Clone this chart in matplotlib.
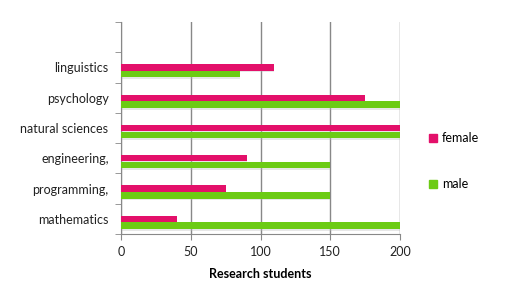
import matplotlib
matplotlib.use("Agg")
import matplotlib.pyplot as plt
from matplotlib.patches import Patch
import numpy as np

# data
subjects = ['mathematics', 'programming,', 'engineering,', 'natural sciences', 'psychology', 'linguistics']
female = [40, 75, 90, 200, 175, 110]
male = [200, 150, 150, 200, 200, 85]
xticks = [0, 50, 100, 150, 200]

female_c = '#E3106A'
male_c = '#6CCB14'
edge_c = '#888888'

plt.rcParams['font.family'] = ['Lato', 'DejaVu Sans']

fig = plt.figure(figsize=(5.17, 3.05), dpi=100)
ax = fig.add_axes([121 / 517, 1 - 234 / 305, 279 / 517, 212 / 305])

y = np.arange(len(subjects))
h = 0.21
off = 0.225

# soft shadow under bars
ax.barh(y - 0.06, female, height=h, color='#bbbbbb', alpha=0.35, zorder=2)
ax.barh(y - off - 0.06, male, height=h, color='#bbbbbb', alpha=0.35, zorder=2)
ax.barh(y, female, height=h, color=female_c, zorder=3, label='female')
ax.barh(y - off, male, height=h, color=male_c, zorder=3, label='male')

ax.set_xlim(0, 200)
ax.set_ylim(-0.5, 6.5)
ax.set_xticks(xticks)
ax.set_yticks(y)
ax.set_yticklabels(subjects)
ax.set_yticks(np.arange(-0.5, 7, 1), minor=True)
ax.tick_params(axis='y', which='major', length=0, labelsize=9, pad=9, colors='#222222')
ax.tick_params(axis='y', which='minor', length=4, color=edge_c)
ax.tick_params(axis='x', length=4, color=edge_c, labelsize=9, pad=5, colors='#222222')
ax.tick_params(axis='x', color=edge_c)

ax.grid(axis='x', color=edge_c, linewidth=1, zorder=0)
ax.set_axisbelow(True)
for s in ['top', 'right']:
    ax.spines[s].set_visible(False)
for s in ['left', 'bottom']:
    ax.spines[s].set_color(edge_c)

ax.set_xlabel('Research students', fontsize=9, fontweight='bold', labelpad=7)

handles = [Patch(color=female_c, label='female'), Patch(color=male_c, label='male')]
fig.legend(handles=handles, loc='upper left', bbox_to_anchor=(418 / 517, 1 - 121 / 305),
           frameon=False, fontsize=9, handlelength=0.6, handleheight=0.6,
           handletextpad=0.4, labelspacing=2.7)

plt.savefig('out.png', dpi=100)
